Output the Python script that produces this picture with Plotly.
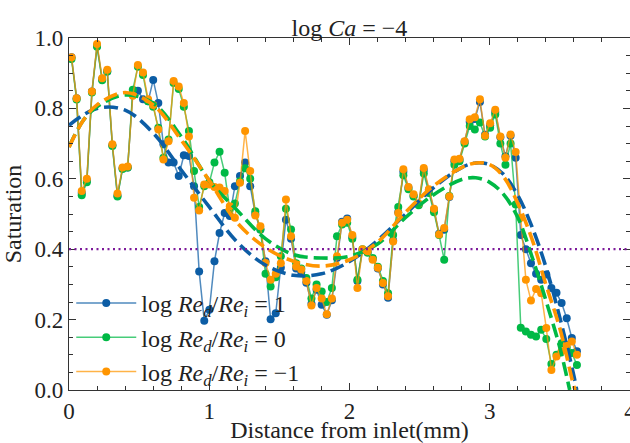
import plotly.graph_objects as go

# Sampling positions along the channel (mm)
distance = [round(0.018 + 0.0364 * i, 4) for i in range(100)]

# Saturation profiles for the three viscosity-ratio cases
sat_re_p1 = [
    0.945, 0.829, 0.560, 0.595, 0.848, 0.978, 0.883, 0.905, 0.695, 0.552,
    0.630, 0.632, 0.843, 0.850, 0.826, 0.820, 0.881, 0.815, 0.698, 0.646,
    0.646, 0.608, 0.667, 0.665, 0.579, 0.337, 0.197, 0.228, 0.366, 0.446,
    0.503, 0.494, 0.579, 0.608, 0.646, 0.579, 0.500, 0.456, 0.366, 0.201,
    0.218, 0.347, 0.484, 0.430, 0.345, 0.335, 0.305, 0.245, 0.285, 0.242,
    0.214, 0.255, 0.375, 0.478, 0.487, 0.435, 0.310, 0.398, 0.392, 0.372,
    0.345, 0.300, 0.262, 0.425, 0.505, 0.620, 0.575, 0.552, 0.528, 0.625,
    0.568, 0.512, 0.444, 0.455, 0.548, 0.650, 0.655, 0.705, 0.762, 0.770,
    0.818, 0.725, 0.752, 0.790, 0.718, 0.664, 0.722, 0.660, 0.440, 0.400,
    0.360, 0.330, 0.313, 0.328, 0.290, 0.276, 0.247, 0.204, 0.148, 0.110,
]

sat_re_0 = [
    0.940, 0.825, 0.553, 0.590, 0.845, 0.975, 0.880, 0.905, 0.693, 0.550,
    0.628, 0.632, 0.853, 0.918, 0.895, 0.820, 0.805, 0.745, 0.660, 0.712,
    0.872, 0.855, 0.805, 0.736, 0.622, 0.520, 0.579, 0.590, 0.646, 0.677,
    0.617, 0.513, 0.530, 0.593, 0.630, 0.600, 0.508, 0.456, 0.330, 0.294,
    0.320, 0.380, 0.515, 0.456, 0.360, 0.345, 0.318, 0.260, 0.300, 0.280,
    0.250, 0.290, 0.437, 0.470, 0.475, 0.430, 0.313, 0.400, 0.390, 0.375,
    0.350, 0.310, 0.275, 0.440, 0.520, 0.610, 0.570, 0.550, 0.525, 0.615,
    0.560, 0.505, 0.440, 0.370, 0.551, 0.640, 0.650, 0.700, 0.750, 0.740,
    0.760, 0.720, 0.745, 0.783, 0.700, 0.640, 0.700, 0.527, 0.177, 0.166,
    0.157, 0.152, 0.171, 0.145, 0.074, 0.100, 0.133, 0.120, 0.105, 0.071,
]

sat_re_m1 = [
    0.945, 0.829, 0.565, 0.600, 0.848, 0.983, 0.886, 0.910, 0.698, 0.558,
    0.632, 0.635, 0.836, 0.923, 0.902, 0.826, 0.810, 0.740, 0.655, 0.707,
    0.878, 0.862, 0.815, 0.720, 0.546, 0.510, 0.584, 0.584, 0.577, 0.575,
    0.565, 0.522, 0.489, 0.589, 0.736, 0.622, 0.496, 0.465, 0.361, 0.313,
    0.330, 0.360, 0.541, 0.437, 0.351, 0.342, 0.310, 0.240, 0.290, 0.260,
    0.215, 0.260, 0.380, 0.475, 0.484, 0.440, 0.290, 0.400, 0.394, 0.370,
    0.347, 0.304, 0.266, 0.422, 0.503, 0.627, 0.577, 0.556, 0.530, 0.631,
    0.570, 0.515, 0.442, 0.460, 0.550, 0.655, 0.657, 0.707, 0.769, 0.775,
    0.826, 0.722, 0.758, 0.796, 0.720, 0.660, 0.726, 0.676, 0.489, 0.313,
    0.254, 0.287, 0.275, 0.176, 0.057, 0.095, 0.110, 0.128, 0.138, 0.100,
]

# Smoothed trend curves
fit_x_p1 = [0, 0.2, 0.4, 0.6, 0.8, 1.0, 1.2, 1.4, 1.6, 1.8, 2.0, 2.2, 2.4,
            2.6, 2.8, 2.9, 3.0, 3.1, 3.2, 3.3, 3.4, 3.5, 3.6, 3.62]
fit_p1 = [0.752, 0.800, 0.795, 0.730, 0.625, 0.520, 0.420, 0.355, 0.326,
          0.330, 0.365, 0.425, 0.500, 0.575, 0.632, 0.645, 0.640, 0.612,
          0.553, 0.465, 0.350, 0.205, 0.040, 0.0]

fit_x_0 = [0, 0.1, 0.2, 0.4, 0.6, 0.8, 1.0, 1.2, 1.4, 1.6, 1.8, 2.0, 2.2,
           2.4, 2.6, 2.8, 2.9, 3.0, 3.1, 3.2, 3.3, 3.4, 3.5, 3.57]
fit_0 = [0.690, 0.765, 0.805, 0.838, 0.815, 0.720, 0.595, 0.510, 0.430,
         0.385, 0.375, 0.380, 0.415, 0.490, 0.555, 0.598, 0.603, 0.590,
         0.555, 0.490, 0.380, 0.255, 0.120, 0.0]

fit_x_m1 = [0, 0.1, 0.2, 0.4, 0.6, 0.8, 1.0, 1.2, 1.4, 1.6, 1.8, 2.0, 2.2,
            2.4, 2.6, 2.8, 2.9, 3.0, 3.1, 3.2, 3.3, 3.4, 3.5, 3.6, 3.61]
fit_m1 = [0.690, 0.765, 0.810, 0.845, 0.810, 0.710, 0.595, 0.475, 0.405,
          0.366, 0.352, 0.370, 0.420, 0.505, 0.580, 0.632, 0.645, 0.640,
          0.605, 0.530, 0.430, 0.300, 0.175, 0.010, 0.0]

threshold = 0.4

series = [
    ("log <i>Re</i><sub><i>d</i></sub>/<i>Re</i><sub><i>i</i></sub> = 1",
     sat_re_p1, fit_x_p1, fit_p1, (12, 93, 165)),
    ("log <i>Re</i><sub><i>d</i></sub>/<i>Re</i><sub><i>i</i></sub> = 0",
     sat_re_0, fit_x_0, fit_0, (0, 185, 69)),
    ("log <i>Re</i><sub><i>d</i></sub>/<i>Re</i><sub><i>i</i></sub> = \u22121",
     sat_re_m1, fit_x_m1, fit_m1, (255, 149, 0)),
]

FONT = "Liberation Serif"
INK = "#222222"
AXIS = "#333333"

fig = go.Figure()

for k, (name, vals, _, _, rgb) in enumerate(series):
    solid = "rgb(%d,%d,%d)" % rgb
    soft = "rgba(%d,%d,%d,0.72)" % rgb
    fig.add_trace(go.Scatter(
        x=distance, y=vals, name=name, mode="lines+markers",
        legendgroup="g%d" % k,
        line=dict(color=soft, width=1.5),
        marker=dict(color=solid, size=8, line=dict(width=0)),
    ))

for k, (name, _, fx, fy, rgb) in enumerate(series):
    fig.add_trace(go.Scatter(
        x=fx, y=fy, mode="lines", showlegend=False, hoverinfo="skip",
        line=dict(color="rgb(%d,%d,%d)" % rgb, width=3.6, dash="14px,6px",
                  shape="spline", smoothing=1.0),
    ))

fig.add_hline(y=threshold, line=dict(color="#7d1a9a", width=2.2, dash="2px,3.5px"))

tick_font = dict(family=FONT, size=23, color=INK)
title_font = dict(family=FONT, size=24, color=INK)

fig.update_layout(
    width=630, height=443,
    margin=dict(l=69, r=0, t=38, b=53, pad=0, autoexpand=False),
    paper_bgcolor="white", plot_bgcolor="white",
    title=dict(text="log <i>Ca</i> = \u22124", x=0.5, xref="paper",
               xanchor="center", y=1 - 28 / 443, yanchor="middle",
               yref="container", automargin=False,
               font=dict(family=FONT, size=24, color=INK)),
    legend=dict(x=0.004, y=0.31, xanchor="left", yanchor="top",
                bgcolor="rgba(0,0,0,0)", font=dict(family=FONT, size=24, color=INK),
                itemwidth=60, tracegroupgap=0),
    showlegend=True,
)

axis_common = dict(
    ticks="inside", ticklen=7, tickwidth=1, tickcolor=AXIS,
    showline=True, linecolor=AXIS, linewidth=1.2, mirror="ticks",
    showgrid=False, zeroline=False, tickfont=tick_font, automargin=False,
)

fig.update_xaxes(
    range=[0, 4], tickvals=[0, 1, 2, 3, 4], ticklabeloverflow="allow",
    title=dict(text="Distance from inlet(mm)", font=title_font, standoff=6),
    minor=dict(ticks="inside", ticklen=4, dtick=0.2, tick0=0,
               tickcolor=AXIS, tickwidth=1, showgrid=False),
    **axis_common,
)
fig.update_yaxes(
    range=[0, 1.0], dtick=0.2, tick0=0, tickformat=".1f",
    title=dict(text="Saturation", font=title_font, standoff=6),
    minor=dict(ticks="inside", ticklen=4, dtick=0.05, tick0=0,
               tickcolor=AXIS, tickwidth=1, showgrid=False),
    **axis_common,
)

fig.write_html("out.html")
